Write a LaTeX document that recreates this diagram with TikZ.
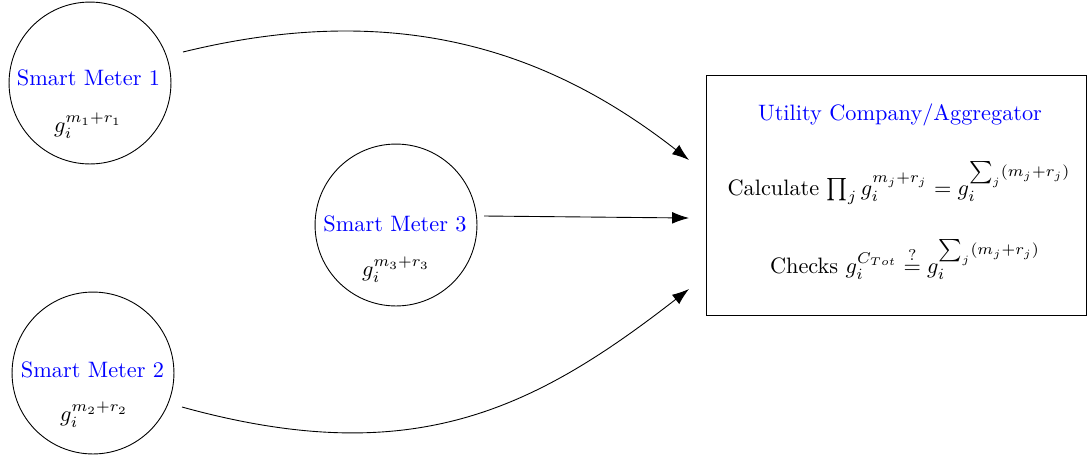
\documentclass[tikz,border=0pt]{standalone}
\usetikzlibrary{arrows.meta}
\begin{document}
\begin{tikzpicture}[x=0.4484pt,y=-0.4484pt,
  meter/.style={draw,circle,minimum size=72.6pt,inner sep=0pt,line width=0.4pt},
  title/.style={text=blue,anchor=base,inner sep=0pt},
  formula/.style={inner sep=0pt},
  arr/.style={-{Latex[length=7.6pt,width=5.3pt]},line width=0.4pt},
  boxst/.style={draw,rectangle,line width=0.4pt,minimum width=170.6pt,minimum height=108pt,inner sep=0pt}]
\useasboundingbox (0,0) rectangle (1087,458);
% meters
\node[meter] (m1) at (90,83) {};
\node[meter] (m2) at (93,373) {};
\node[meter] (m3) at (396,225) {};
\node[title] (m1t) at (88.5,85) {Smart Meter 1};
\node[formula] (m1f) at (88,126) {$g_i^{m_1+r_1}$};
\node[title] (m2t) at (92.5,377) {Smart Meter 2};
\node[formula] (m2f) at (94,415) {$g_i^{m_2+r_2}$};
\node[title] (m3t) at (395,231) {Smart Meter 3};
\node[formula] (m3f) at (396,270) {$g_i^{m_3+r_3}$};
% box
\node[boxst] (box) at (896.5,195.5) {};
\node[title] (bt) at (900,120) {Utility Company/Aggregator};
\node[anchor=base,inner sep=0pt] (calc) at (899,195) {Calculate $\prod_j g_i^{m_j+r_j} = g_i^{\sum_j (m_j+r_j)}$};
\node[anchor=base,inner sep=0pt] (chk) at (905,273) {Checks $g_i^{C_{Tot}} \stackrel{?}{=} g_i^{\sum_j (m_j+r_j)}$};
% connector ends
\coordinate (s1) at (183,52);
\coordinate (e1) at (689,160);
\coordinate (s3) at (484,216);
\coordinate (e3) at (689,218);
\coordinate (s2) at (182,407);
\coordinate (e2) at (689,289);
\draw[arr] (s1) .. controls (395,0) and (547,49) .. (e1);
\draw[arr] (s3) -- (e3);
\draw[arr] (s2) .. controls (410,470) and (531,412) .. (e2);
\end{tikzpicture}
\end{document}
